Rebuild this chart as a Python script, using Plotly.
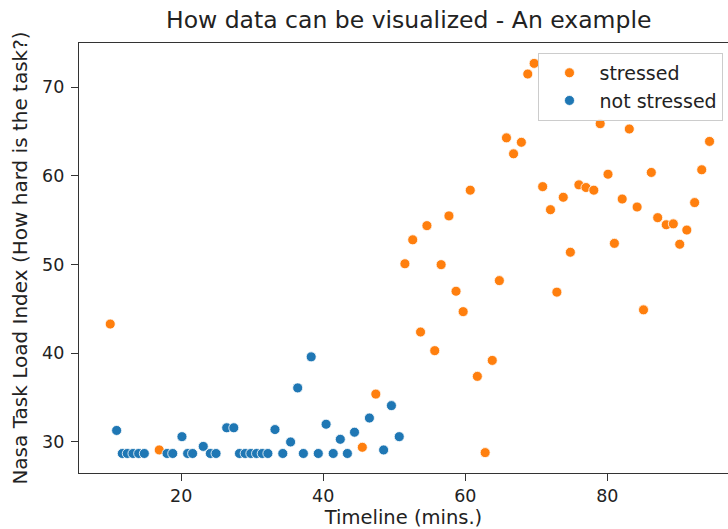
import plotly.graph_objects as go

# ---- data ----
stressed_time = [10.0, 16.9, 45.5, 47.4, 51.5, 52.6, 53.7, 54.6, 55.7, 56.6, 57.7, 58.7,
                 59.7, 60.7, 61.7, 62.8, 63.8, 64.8, 65.8, 66.8, 67.9, 68.8, 69.7, 70.9,
                 72.0, 72.9, 73.8, 74.8, 76.0, 77.0, 78.1, 79.0, 80.1, 81.0, 82.1, 83.1,
                 84.2, 85.1, 86.2, 87.1, 88.3, 89.3, 90.2, 91.2, 92.3, 93.3, 94.4]
stressed_nasa = [43.3, 29.1, 29.4, 35.4, 50.1, 52.8, 42.4, 54.4, 40.3, 50.0, 55.5, 47.0,
                 44.7, 58.4, 37.4, 28.8, 39.2, 48.2, 64.3, 62.5, 63.8, 71.5, 72.7, 58.8,
                 56.2, 46.9, 57.6, 51.4, 59.0, 58.7, 58.4, 65.9, 60.2, 52.4, 57.4, 65.3,
                 56.5, 44.9, 60.4, 55.3, 54.5, 54.6, 52.3, 53.9, 57.0, 60.7, 63.9]

not_stressed_time = [10.9, 11.7, 12.4, 13.2, 14.0, 14.8, 18.0, 18.8, 20.1, 20.9, 21.6, 23.1,
                     24.1, 24.9, 26.4, 27.4, 28.2, 29.0, 29.8, 30.6, 31.4, 32.2, 33.2, 34.3,
                     35.4, 36.4, 37.2, 38.3, 39.3, 40.4, 41.4, 42.4, 43.4, 44.4, 46.5, 48.5,
                     49.6, 50.7]
not_stressed_nasa = [31.3, 28.7, 28.7, 28.7, 28.7, 28.7, 28.7, 28.7, 30.6, 28.7, 28.7, 29.5,
                     28.7, 28.7, 31.6, 31.6, 28.7, 28.7, 28.7, 28.7, 28.7, 28.7, 31.4, 28.7,
                     30.0, 36.1, 28.7, 39.6, 28.7, 32.0, 28.7, 30.3, 28.7, 31.1, 32.7, 29.1,
                     34.1, 30.6]

x_ticks = [20, 40, 60, 80]
y_ticks = [30, 40, 50, 60, 70]

FONT = "DejaVu Sans"
ORANGE = "#ff7f0e"
BLUE = "#1f77b4"
TXT = "#222222"
LINE = "#333333"

fig = go.Figure()
fig.add_trace(go.Scatter(
    x=stressed_time, y=stressed_nasa, mode="markers", name="stressed",
    marker=dict(color=ORANGE, size=10, line=dict(color="white", width=0.8)),
))
fig.add_trace(go.Scatter(
    x=not_stressed_time, y=not_stressed_nasa, mode="markers", name="not stressed",
    marker=dict(color=BLUE, size=10, line=dict(color="white", width=0.8)),
))

fig.update_layout(
    width=728, height=529,
    margin=dict(l=79, r=0, t=43, b=56),
    paper_bgcolor="white", plot_bgcolor="white",
    font=dict(family=FONT, color=TXT, size=18),
    title=dict(text="How data can be visualized - An example",
               font=dict(family=FONT, size=23.5, color=TXT),
               x=0.508, xref="paper", xanchor="center",
               y=1 - 20 / 529, yref="container", yanchor="middle"),
    showlegend=True,
    legend=dict(x=0.708, y=0.977, xanchor="left", yanchor="top",
                bgcolor="rgba(255,255,255,0.85)", bordercolor="#cccccc", borderwidth=1,
                font=dict(family=FONT, size=19, color=TXT),
                itemwidth=50, traceorder="normal", tracegroupgap=0),
)
fig.update_xaxes(
    range=[5.6, 97.0], tickvals=x_ticks, ticks="outside", ticklen=7, tickwidth=1.2,
    tickcolor=LINE, showline=True, linecolor=LINE, linewidth=1.3,
    mirror=True, showgrid=False, zeroline=False, automargin=False,
    ticklabelstandoff=0,
    tickfont=dict(family=FONT, size=17.5, color=TXT),
    title=dict(text="Timeline (mins.)", font=dict(family=FONT, size=19.5, color=TXT),
               standoff=7),
)
fig.update_yaxes(
    range=[26.5, 75.0], tickvals=y_ticks, ticks="outside", ticklen=7, tickwidth=1.2,
    tickcolor=LINE, showline=True, linecolor=LINE, linewidth=1.3,
    mirror=False, showgrid=False, zeroline=False, automargin=False,
    ticklabelstandoff=3,
    tickfont=dict(family=FONT, size=17.5, color=TXT),
    title=dict(text="Nasa Task Load Index (How hard is the task?)",
               font=dict(family=FONT, size=20, color=TXT), standoff=9),
)

fig.write_html("out.html",
               config={"displayModeBar": False},
               post_script="document.body.style.margin='0';"
                           "document.body.style.overflow='hidden';")
